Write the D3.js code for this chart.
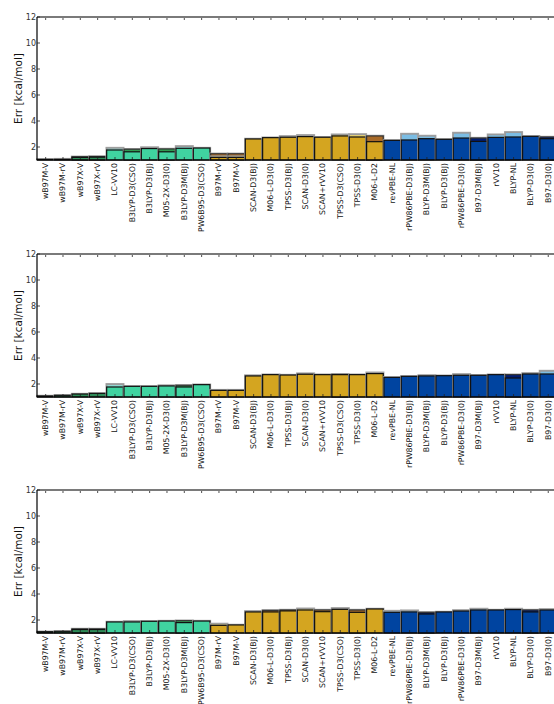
<!DOCTYPE html>
<html><head><meta charset="utf-8">
<script src="https://cdn.jsdelivr.net/npm/d3@7"></script>
<style>body{margin:0;background:#fff;}svg{display:block;font-family:"DejaVu Sans",sans-serif;}</style>
</head><body>
<script>
const categories = ["wB97M-V","wB97M-rV","wB97X-V","wB97X-rV","LC-VV10","B3LYP-D3(CSO)","B3LYP-D3(BJ)","M05-2X-D3(0)","B3LYP-D3M(BJ)","PW6B95-D3(CSO)","B97M-rV","B97M-V","SCAN-D3(BJ)","M06-L-D3(0)","TPSS-D3(BJ)","SCAN-D3(0)","SCAN+rVV10","TPSS-D3(CSO)","TPSS-D3(0)","M06-L-D2","revPBE-NL","rPW86PBE-D3(BJ)","BLYP-D3M(BJ)","BLYP-D3(BJ)","rPW86PBE-D3(0)","B97-D3M(BJ)","rVV10","BLYP-NL","BLYP-D3(0)","B97-D3(0)"];
const groups = ["wB97","wB97","wB97","wB97","hyb","hyb","hyb","hyb","hyb","hyb","mgga","mgga","mgga","mgga","mgga","mgga","mgga","mgga","mgga","mgga","gga","gga","gga","gga","gga","gga","gga","gga","gga","gga"];
const yTicks = [2,4,6,8,10,12];

const p1Main  = [1.05,1.05,1.2,1.22,1.77,1.63,1.88,1.63,1.9,1.92,1.2,1.2,2.62,2.72,2.75,2.8,2.75,2.85,2.77,2.41,2.51,2.54,2.64,2.59,2.69,2.43,2.74,2.77,2.82,2.64];
const p1Light = [null,1.07,null,null,1.92,null,1.96,null,2.05,null,1.3,1.3,null,null,2.82,2.9,null,2.95,2.97,null,null,3.0,2.85,null,3.08,null,2.95,3.13,null,null];
const p1Dark  = [null,null,1.25,1.27,null,1.83,null,1.85,null,null,1.48,1.48,null,null,null,null,null,null,null,2.85,null,null,null,null,null,2.69,null,null,null,2.77];

const p2Main  = [1.08,1.13,1.23,1.28,1.77,1.82,1.82,1.85,1.77,1.95,1.51,1.51,2.62,2.72,2.69,2.75,2.72,2.72,2.72,2.8,2.51,2.59,2.62,2.64,2.67,2.67,2.72,2.46,2.77,2.77];
const p2Light = [null,null,null,null,1.98,null,null,1.88,null,null,1.53,1.53,2.65,null,null,2.8,null,null,null,2.87,null,null,2.66,null,2.74,null,null,null,2.82,3.0];
const p2Dark  = [null,null,null,null,null,null,null,null,1.9,null,null,null,null,null,null,null,null,2.74,null,null,null,null,null,null,null,null,null,2.72,null,null];

const p3Main  = [1.1,1.13,1.27,1.27,1.85,1.85,1.9,1.92,1.8,1.92,1.59,1.62,2.62,2.62,2.7,2.77,2.64,2.82,2.59,2.85,2.59,2.62,2.46,2.62,2.69,2.77,2.77,2.8,2.62,2.77];
const p3Light = [null,null,null,null,null,1.9,null,null,null,null,1.7,null,2.67,null,null,2.87,null,2.9,null,null,2.69,2.72,null,null,2.74,2.85,null,2.85,null,2.82];
const p3Dark  = [null,null,1.31,1.31,null,null,null,null,1.95,null,null,null,null,2.74,2.77,null,2.77,null,2.77,null,null,null,2.59,null,null,null,null,null,2.77,null];

const colors = {
  wB97: {main:"#2e8b57", light:"#6db88a", dark:"#1a5a32"},
  hyb:  {main:"#40d3a0", light:"#8fd9d2", dark:"#2f9a50"},
  mgga: {main:"#d4a520", light:"#e9d470", dark:"#a86a28"},
  gga:  {main:"#0044a0", light:"#7bbde4", dark:"#001c72"}
};

const panels = [
  {top:17, main:p1Main, light:p1Light, dark:p1Dark},
  {top:254, main:p2Main, light:p2Light, dark:p2Dark},
  {top:490, main:p3Main, light:p3Light, dark:p3Dark}
];

const W = 554, H = 704;
const left = 37, bandW = 17.33, ph = 143;
const svg = d3.select("body").append("svg").attr("width", W).attr("height", H);

const x = d3.scaleBand().domain(categories).range([left, left + bandW*categories.length]).paddingInner(0.04).paddingOuter(0.02);

panels.forEach(p => {
  const y = d3.scaleLinear().domain([1, 12]).range([p.top + ph, p.top]);
  const g = svg.append("g");
  const base = y(1);
  categories.forEach((c, i) => {
    const col = colors[groups[i]];
    const layers = [];
    if (p.light[i] != null) layers.push({v:p.light[i], fill:col.light, stroke:"#9a9a9a", sw:1.4});
    if (p.dark[i] != null) layers.push({v:p.dark[i], fill:col.dark, stroke:"#333", sw:1.2});
    layers.push({v:p.main[i], fill:col.main, stroke:"#111", sw:1.2, main:true});
    layers.sort((a,b) => b.v - a.v);
    const top = layers[0].v;
    g.append("rect").attr("x", x(c)-0.6).attr("y", y(top)-0.6)
      .attr("width", x.bandwidth()+1.2).attr("height", base - y(top)+0.6)
      .attr("fill","none").attr("stroke","#aaa").attr("stroke-width",1.2);
    layers.forEach(l => {
      g.append("rect").attr("x", x(c)).attr("y", y(l.v))
        .attr("width", x.bandwidth()).attr("height", base - y(l.v))
        .attr("fill", l.fill).attr("stroke", l.stroke).attr("stroke-width", l.sw);
    });
  });
  categories.forEach(c => {
    const cx = x(c) + x.bandwidth()/2;
    g.append("line").attr("x1",cx).attr("x2",cx).attr("y1",base).attr("y2",base-3).attr("stroke","#222").attr("stroke-width",0.8);
    g.append("line").attr("x1",cx).attr("x2",cx).attr("y1",p.top).attr("y2",p.top+3).attr("stroke","#222").attr("stroke-width",0.8);
  });
  g.append("line").attr("x1", left).attr("x2", W).attr("y1", p.top).attr("y2", p.top).attr("stroke","#7a7a7a").attr("stroke-width",2);
  g.append("line").attr("x1", left).attr("x2", left).attr("y1", p.top).attr("y2", base).attr("stroke","#000").attr("stroke-width",1.2);
  g.append("line").attr("x1", left).attr("x2", W).attr("y1", base).attr("y2", base).attr("stroke","#000").attr("stroke-width",1);
  yTicks.forEach(t => {
    g.append("line").attr("x1", left).attr("x2", left+3).attr("y1", y(t)).attr("y2", y(t)).attr("stroke","#222").attr("stroke-width",0.8);
    g.append("text").attr("x", left-1).attr("y", y(t)).attr("text-anchor","end").attr("dominant-baseline","central")
      .attr("font-size", 8).attr("fill","#333").text(t);
  });
  g.append("text").attr("transform", `translate(18,${p.top + ph/2}) rotate(-90)`).attr("text-anchor","middle")
    .attr("dominant-baseline","central").attr("font-size", 10.5).attr("fill","#111").text("Err [kcal/mol]");
  categories.forEach(c => {
    const cx = x(c) + x.bandwidth()/2;
    g.append("text").attr("transform", `translate(${cx},${base+3}) rotate(-90)`).attr("text-anchor","end")
      .attr("dominant-baseline","central").attr("font-size", 7.8).attr("fill","#111").text(c);
  });
});
</script>
</body></html>
